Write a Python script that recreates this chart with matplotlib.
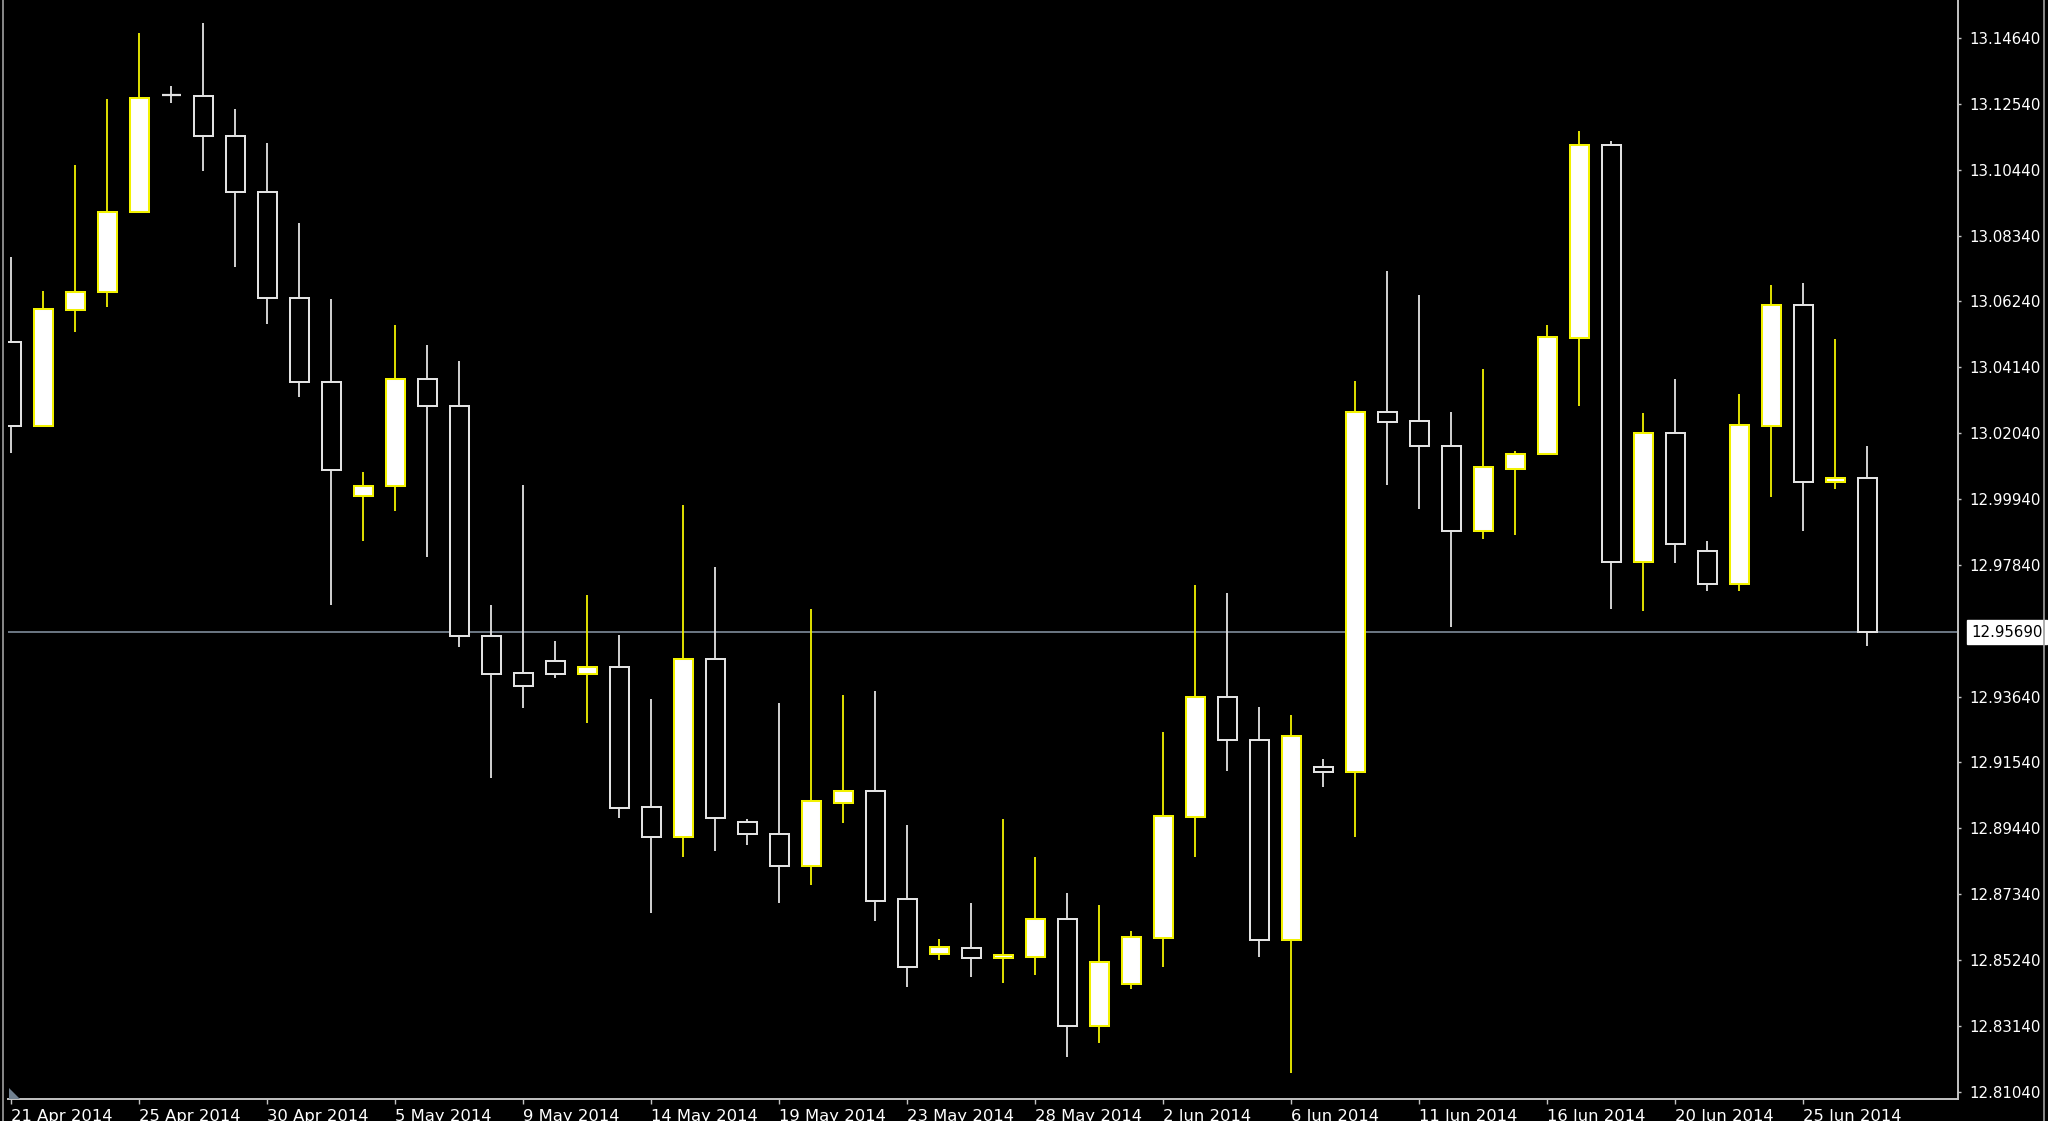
import matplotlib
matplotlib.use("Agg")
import matplotlib.pyplot as plt
from matplotlib.patches import Rectangle, Polygon
from matplotlib.lines import Line2D

# daily bars, 21 Apr 2014 .. 27 Jun 2014 (broker has Sunday bars)
opens = [13.04955, 13.02267, 13.05965, 13.06530, 13.09080, 13.12820, 13.12788, 13.11522, 13.09737, 13.06357,
         13.03680, 13.00035, 13.00354, 13.03756, 13.02914, 12.95572, 12.94383, 12.94775, 12.94360, 12.94574,
         12.90111, 12.89173, 12.94829, 12.89652, 12.89260, 12.88239, 12.90257, 12.90630, 12.87178, 12.85424,
         12.85635, 12.85297, 12.85348, 12.86540, 12.83138, 12.84468, 12.85934, 12.89811, 12.93618, 12.92256,
         12.85880, 12.91386, 12.91227, 13.02717, 13.02414, 13.01645, 12.98935, 13.00912, 13.01365, 13.05060,
         13.11219, 12.97922, 13.02047, 12.98266, 12.97230, 13.02254, 13.06109, 13.00485, 13.00619]
highs = [13.07655, 13.06571, 13.10588, 13.12692, 13.14806, 13.13107, 13.15106, 13.12373, 13.11280, 13.08729,
         13.06306, 13.00810, 13.05487, 13.04849, 13.04339, 12.96560, 13.00386, 12.95413, 12.96879, 12.95604,
         12.93554, 12.99748, 12.97781, 12.89728, 12.93426, 12.96423, 12.93691, 12.93819, 12.89547, 12.85903,
         12.87050, 12.89728, 12.88517, 12.87388, 12.86996, 12.86167, 12.92521, 12.97198, 12.96933, 12.93299,
         12.93053, 12.91641, 13.03692, 13.07196, 13.06428, 13.02717, 13.04072, 13.01460, 13.05487, 13.11685,
         13.11356, 13.02681, 13.03756, 12.98607, 13.03303, 13.06756, 13.06829, 13.05034, 13.01645]
lows = [13.01397, 13.02250, 13.05254, 13.06070, 13.09080, 13.12574, 13.10406, 13.07346, 13.05509, 13.03192,
        12.96560, 12.98610, 12.99567, 12.98100, 12.95231, 12.91035, 12.93267, 12.94223, 12.92808, 12.89760,
        12.86751, 12.88536, 12.88727, 12.88909, 12.87069, 12.87634, 12.89601, 12.86496, 12.84391, 12.85243,
        12.84710, 12.84519, 12.84764, 12.82160, 12.82606, 12.84318, 12.85029, 12.88536, 12.91278, 12.85348,
        12.81630, 12.90767, 12.89173, 13.00399, 12.99630, 12.95862, 12.98668, 12.98789, 13.01365, 13.02901,
        12.96436, 12.96375, 12.97899, 12.97007, 12.97007, 13.00010, 12.98935, 13.00252, 12.95240]
closes = [13.02267, 13.05988, 13.06549, 13.09099, 13.12734, 13.12820, 13.11513, 13.09718, 13.06357, 13.03670,
          13.00864, 13.00364, 13.03756, 13.02905, 12.95572, 12.94360, 12.93978, 12.94360, 12.94574, 12.90079,
          12.89173, 12.94829, 12.89760, 12.89260, 12.88239, 12.90312, 12.90630, 12.87133, 12.85029, 12.85667,
          12.85297, 12.85392, 12.86540, 12.83138, 12.85188, 12.85966, 12.89843, 12.93618, 12.92256, 12.85880,
          12.92393, 12.91227, 13.02717, 13.02388, 13.01620, 12.98935, 13.00947, 13.01387, 13.05098, 13.11219,
          12.97922, 13.02047, 12.98508, 12.97230, 13.02289, 13.06109, 13.00485, 13.00619, 12.95690]

date_ticks = list(range(0, 57, 4))
date_labels = ["21 Apr 2014", "25 Apr 2014", "30 Apr 2014", "5 May 2014", "9 May 2014",
               "14 May 2014", "19 May 2014", "23 May 2014", "28 May 2014", "2 Jun 2014",
               "6 Jun 2014", "11 Jun 2014", "16 Jun 2014", "20 Jun 2014", "25 Jun 2014"]
price_ticks = [13.14640, 13.12540, 13.10440, 13.08340, 13.06240, 13.04140, 13.02040, 12.99940,
               12.97840, 12.93640, 12.91540, 12.89440, 12.87340, 12.85240, 12.83140, 12.81040]
bid = 12.95690

W, H = 2048, 1121
BG = "black"
UP = "#F2F200"
DOWN = "#E2E2E2"
AXC = "#C4C4C4"
BOTTOM = 1099

fig = plt.figure(figsize=(W / 100, H / 100), dpi=100, facecolor=BG)
ax = fig.add_axes([8 / W, 1 - BOTTOM / H, (1958 - 8) / W, BOTTOM / H])
ax.set_facecolor(BG)
ax.set_xlim(-0.094, 60.84)
ax.set_ylim(13.158483 - BOTTOM * 0.00031881, 13.158483)

# bid line
ax.axhline(bid, color="#8A98A8", lw=1.1, zorder=1)

bw = 0.594
for i, (o, h, l, c) in enumerate(zip(opens, highs, lows, closes)):
    up = c > o
    col = UP if up else DOWN
    ax.vlines(i, l, h, color=col, lw=1.3, zorder=2)
    lo, hi = min(o, c), max(o, c)
    if hi - lo < 1e-6:
        ax.hlines(o, i - bw / 2, i + bw / 2, color=col, lw=1.6, zorder=3)
    else:
        ax.add_patch(Rectangle((i - bw / 2, lo), bw, hi - lo,
                               facecolor="white" if up else BG,
                               edgecolor=col, lw=1.45, zorder=3))

for s in ["left", "top"]:
    ax.spines[s].set_visible(False)
for s in ["right", "bottom"]:
    ax.spines[s].set_color(AXC)
    ax.spines[s].set_linewidth(1.4)

ax.yaxis.tick_right()
ax.set_yticks(price_ticks)
ax.set_yticklabels([f"{p:.5f}" for p in price_ticks])
ax.tick_params(axis="y", colors=AXC, labelcolor="white", length=2.5, width=1, pad=6,
               labelsize=10.8)

ax.set_xticks(date_ticks)
ax.set_xticklabels(date_labels)
ax.tick_params(axis="x", colors=AXC, labelcolor="white", length=3.6, width=1, pad=3.5,
               labelsize=11.8)
for lab in ax.get_xticklabels():
    lab.set_ha("left")

# current price marker on the scale
ax.annotate(f"{bid:.5f}", xy=(1, bid), xycoords=("axes fraction", "data"),
            xytext=(13, 0), textcoords="offset pixels", va="center", ha="left",
            fontsize=10.8, color="black",
            bbox=dict(boxstyle="square,pad=0.3", fc="white", ec="white"))

# window borders and chart-shift marker
fig.add_artist(Line2D([3 / W, 3 / W], [0, 1], color="#A0A0A0", lw=1.2))
fig.add_artist(Line2D([2044 / W, 2044 / W], [0, 1], color="#A0A0A0", lw=1.2))
fig.add_artist(Polygon([(9 / W, 1 - BOTTOM / H), (9 / W, 1 - 1088 / H), (20 / W, 1 - BOTTOM / H)],
                       closed=True, fc="#708090", ec="none"))

fig.savefig("out.png", dpi=100, facecolor=BG)
